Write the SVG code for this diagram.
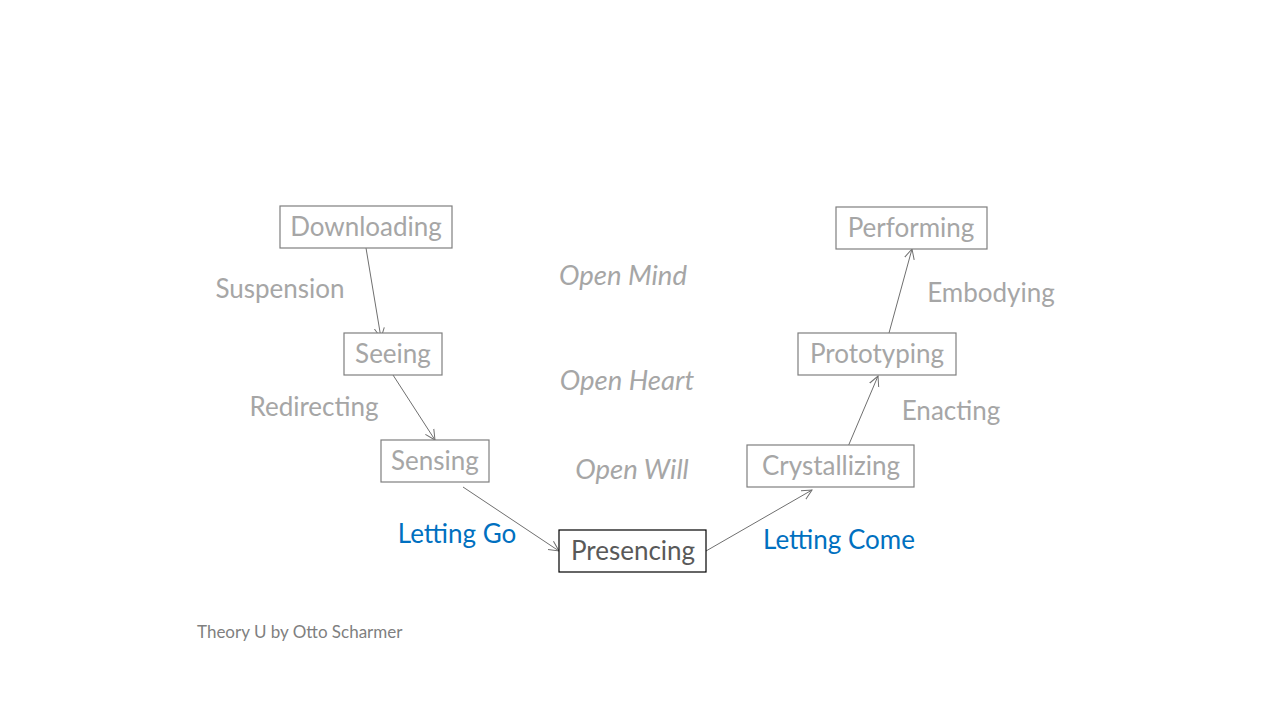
<svg xmlns="http://www.w3.org/2000/svg" width="1280" height="720" viewBox="0 0 1280 720">
<style>
.box{fill:#fff;stroke:#7f7f7f;stroke-width:1.2}
.t{font-family:Lato,"Open Sans","Liberation Sans",sans-serif;font-size:26px;fill:#a6a6a6;text-anchor:middle}
.it{font-style:italic;font-size:27.5px}
.blue{fill:#0070c0}
.con{stroke:#6f6f6f;stroke-width:1;fill:none;marker-end:url(#ah)}
</style>
<defs>
<marker id="ah" markerWidth="12" markerHeight="12" refX="10" refY="5" orient="auto" markerUnits="userSpaceOnUse" viewBox="0 0 12 10">
<path d="M0,0 L10,5 L0,10" fill="none" stroke="#6f6f6f" stroke-width="1"/>
</marker>
</defs>
<rect width="1280" height="720" fill="#fff"/>
<g id="connectors">
<line class="con" x1="366" y1="248" x2="381" y2="338"/>
<line class="con" x1="393" y1="375" x2="435" y2="440"/>
<line class="con" x1="463" y1="487" x2="559" y2="551"/>
<line class="con" x1="706" y1="551" x2="812" y2="490"/>
<line class="con" x1="847" y1="449" x2="878" y2="376"/>
<line class="con" x1="889" y1="333" x2="912" y2="249"/>
</g>
<g id="downloading"><rect class="box" x="280" y="206" width="172" height="42"/><text class="t" x="366" y="236">Downloading</text></g>
<g id="seeing"><rect class="box" x="344" y="333" width="98" height="42"/><text class="t" x="393" y="363">Seeing</text></g>
<g id="sensing"><rect class="box" x="381" y="440" width="108" height="42"/><text class="t" x="435" y="470">Sensing</text></g>
<g id="presencing"><rect x="559" y="530" width="147" height="42" fill="#fff" stroke="#000" stroke-width="1.2"/><text class="t" x="633" y="560" style="fill:#595959">Presencing</text></g>
<g id="crystallizing"><rect class="box" x="747" y="445" width="167" height="42"/><text class="t" x="831" y="475">Crystallizing</text></g>
<g id="prototyping"><rect class="box" x="798" y="333" width="158" height="42"/><text class="t" x="877" y="363">Prototyping</text></g>
<g id="performing"><rect class="box" x="836" y="207" width="151" height="42"/><text class="t" x="911" y="237">Performing</text></g>
<g id="labels">
<text class="t" x="280" y="298">Suspension</text>
<text class="t" x="314" y="416">Redirecting</text>
<text class="t blue" x="457" y="543">Letting Go</text>
<text class="t blue" x="839" y="549">Letting Come</text>
<text class="t" x="991" y="302">Embodying</text>
<text class="t" x="951" y="420">Enacting</text>
<text class="t it" x="623" y="285">Open Mind</text>
<text class="t it" x="627" y="390">Open Heart</text>
<text class="t it" x="632" y="479">Open Will</text>
<text x="197" y="638" style="font-family:Lato,'Open Sans','Liberation Sans',sans-serif;font-size:17px;fill:#7f7f7f">Theory U by Otto Scharmer</text>
</g>
</svg>
